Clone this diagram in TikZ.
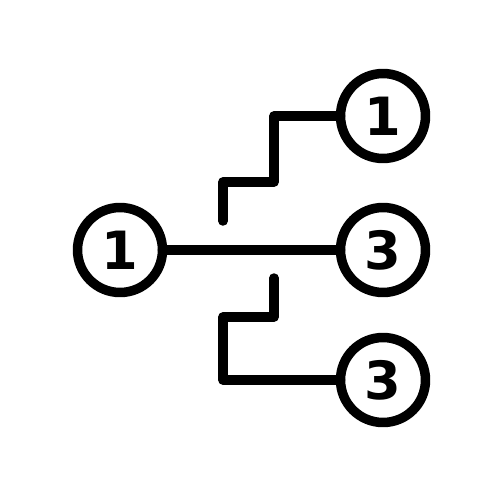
\documentclass[tikz,border=0pt]{standalone}
\usepackage{fontspec}
\setsansfont{DejaVu Sans}
\begin{document}
\begin{tikzpicture}[x=0.02cm, y=-0.02cm, line width=0.19cm, line cap=round, line join=round,
  num/.style={circle, draw, minimum size=1.7cm, inner sep=0pt, outer sep=0pt,
    font=\fontsize{30}{30}\selectfont\sffamily\bfseries}]
\useasboundingbox (0,0) rectangle (500,500);
\node[num] (nd0) at (120,250){1};
\node[num] (nd1) at (383,116){1};
\node[num] (nd2) at (383,250){3};
\node[num] (nd3) at (383,380){3};
\coordinate (up0) at (223,221);
\coordinate (up1) at (274,182);
\coordinate (lo0) at (274,278);
\coordinate (lo1) at (223,317);
\draw[](nd0) -- (nd2);
\draw[](up0) |- (up1) |- (nd1);
\draw[](lo0) |- (lo1) |- (nd3);

\end{tikzpicture}
\end{document}
